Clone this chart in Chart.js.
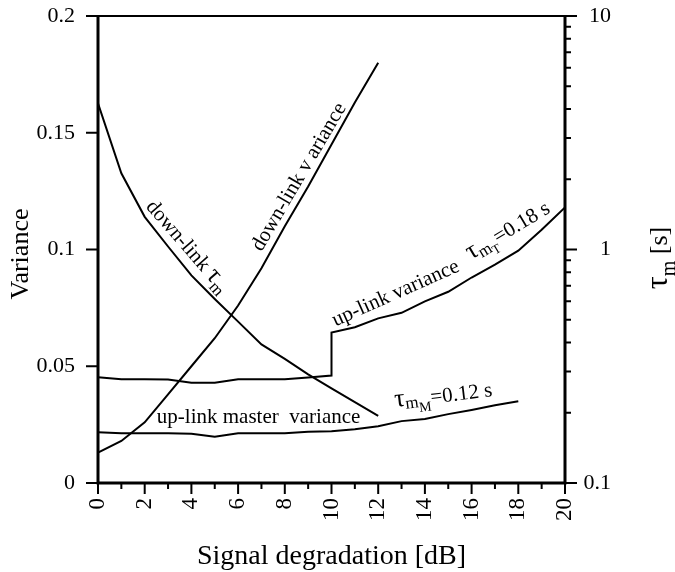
<!DOCTYPE html>
<html>
<head>
<meta charset="utf-8">
<script src="https://cdn.jsdelivr.net/npm/chart.js@4.4.1/dist/chart.umd.min.js"></script>
<style>
html,body{margin:0;padding:0;background:#fff;}
#wrap{width:675px;height:572px;position:relative;}
</style>
</head>
<body>
<div id="wrap"><canvas id="c"></canvas></div>
<script>
const FONT = '"Liberation Serif", "Times New Roman", Times, serif';

// ---- data (x = signal degradation in dB) ----
const dbDownlink = [0, 1, 2, 3, 4, 5, 6, 7, 8, 9, 10, 11, 12];
const downlinkTau = [4.23, 2.12, 1.38, 1.03, 0.775, 0.614, 0.491, 0.392, 0.340, 0.292, 0.254, 0.222, 0.194]; // seconds, right log axis
const downlinkVariance = [0.013, 0.018, 0.026, 0.038, 0.050, 0.062, 0.076, 0.092, 0.110, 0.127, 0.145, 0.163, 0.180];

const dbUplink = [0, 1, 2, 3, 4, 5, 6, 7, 8, 9, 10, 10, 11, 12, 13, 14, 15, 16, 17, 18, 19, 20];
const uplinkVariance = [0.0453, 0.0444, 0.0444, 0.0443, 0.0429, 0.0429, 0.0444, 0.0444, 0.0444, 0.0452, 0.0460,
                        0.0644, 0.0667, 0.0705, 0.0729, 0.0778, 0.0819, 0.0880, 0.0935, 0.0995, 0.1085, 0.1180];

const dbMaster = [0, 1, 2, 3, 4, 5, 6, 7, 8, 9, 10, 11, 12, 13, 14, 15, 16, 17, 18];
const uplinkMasterVariance = [0.0217, 0.0213, 0.0213, 0.0213, 0.0211, 0.0198, 0.0213, 0.0213, 0.0213, 0.0220, 0.0222,
                              0.0230, 0.0243, 0.0265, 0.0274, 0.0295, 0.0313, 0.0333, 0.0350];

// ---- ticks ----
const xTickValues = [0, 2, 4, 6, 8, 10, 12, 14, 16, 18, 20];
const xMinorTickValues = [1, 3, 5, 7, 9, 11, 13, 15, 17, 19];
const varianceTicks = [0, 0.05, 0.1, 0.15, 0.2];
const tauTicks = [0.1, 1, 10];
const tauTickLabels = ['0.1', '1', '10'];
const tauMinorTicks = [0.2, 0.3, 0.4, 0.5, 0.6, 0.7, 0.8, 0.9, 2, 3, 4, 5, 6, 7, 8, 9];

// ---- texts ----
const xAxisTitle = 'Signal degradation [dB]';
const leftAxisTitle = 'Variance';
const rightAxisTitle = [['τ', 32, 0], ['m', 20, 8], [' [s]', 26, 0]];

// annotation anchors in (dB, variance) units
const annotations = [
  { x: 3.64, y: 0.0996, angle: 49, align: 'center', parts: [['down-link ', 21, 0], ['τ', 26, 0], ['m', 17, 5]] },
  { x: 8.82, y: 0.1298, angle: -59.6, align: 'center', parts: [['down-link v ariance', 21, 0]] },
  { x: 12.85, y: 0.0790, angle: -24, align: 'center', parts: [['up-link variance', 21, 0]] },
  { x: 17.69, y: 0.1058, angle: -31, align: 'center', parts: [['τ', 26, 0], ['m', 17, 4], ['T', 13, 8], ['=0.18 s', 21, 0]] },
  { x: 14.82, y: 0.0351, angle: -7, align: 'center', parts: [['τ', 26, 0], ['m', 17, 3], ['M', 14, 8], ['=0.12 s', 21, 1]] },
  { x: 2.52, y: 0.0259, angle: 0, align: 'left', parts: [['up-link master  variance', 21, 0]] }
];

function drawRich(ctx, parts, px, py, angleDeg, align, baseline) {
  ctx.save();
  ctx.translate(px, py);
  ctx.rotate(angleDeg * Math.PI / 180);
  ctx.textBaseline = baseline || 'alphabetic';
  ctx.textAlign = 'left';
  ctx.fillStyle = '#000';
  let total = 0;
  const ws = parts.map(([t, s]) => { ctx.font = s + 'px ' + FONT; const w = ctx.measureText(t).width; total += w; return w; });
  let cx = align === 'center' ? -total / 2 : (align === 'right' ? -total : 0);
  parts.forEach(([t, s, dy], i) => { ctx.font = s + 'px ' + FONT; ctx.fillText(t, cx, dy); cx += ws[i]; });
  ctx.restore();
}

const decor = {
  id: 'decor',
  afterDraw(chart) {
    const { ctx, chartArea: a, scales } = chart;
    const x = scales.x, y = scales.y, y2 = scales.y2;
    ctx.save();
    ctx.strokeStyle = '#000';
    ctx.lineCap = 'butt';
    // frame
    ctx.lineWidth = 2;
    ctx.beginPath(); ctx.moveTo(a.left, a.top); ctx.lineTo(a.right, a.top); ctx.stroke();
    ctx.lineWidth = 3;
    ctx.beginPath();
    ctx.moveTo(a.left, a.top - 1); ctx.lineTo(a.left, a.bottom + 1.5);
    ctx.moveTo(a.left - 1.5, a.bottom); ctx.lineTo(a.right + 1.5, a.bottom);
    ctx.moveTo(a.right, a.top - 1); ctx.lineTo(a.right, a.bottom + 1.5);
    ctx.stroke();
    // ticks
    ctx.lineWidth = 2;
    ctx.beginPath();
    xTickValues.forEach(v => { const p = x.getPixelForValue(v); ctx.moveTo(p, a.bottom); ctx.lineTo(p, a.bottom + 11); });
    xMinorTickValues.forEach(v => { const p = x.getPixelForValue(v); ctx.moveTo(p, a.bottom); ctx.lineTo(p, a.bottom + 6); });
    varianceTicks.forEach(v => { const p = y.getPixelForValue(v); ctx.moveTo(a.left - 12, p); ctx.lineTo(a.left, p); });
    tauTicks.forEach(v => { const p = y2.getPixelForValue(v); ctx.moveTo(a.right, p); ctx.lineTo(a.right + 12, p); });
    tauMinorTicks.forEach(v => { const p = y2.getPixelForValue(v); ctx.moveTo(a.right, p); ctx.lineTo(a.right + 6, p); });
    ctx.stroke();
    ctx.restore();

    // right tick labels (right-aligned, as in the reference)
    tauTicks.forEach((v, i) => {
      drawRich(ctx, [[tauTickLabels[i], 22, 0]], a.right + 46, y2.getPixelForValue(v), 0, 'right', 'middle');
    });

    // axis titles
    drawRich(ctx, [[xAxisTitle, 28, 0]], (a.left + a.right) / 2, 564, 0, 'center');
    drawRich(ctx, [[leftAxisTitle, 26, 0]], 28, 254, -90, 'center');
    drawRich(ctx, rightAxisTitle, 667, 258, -90, 'center');

    // annotations
    annotations.forEach(an => {
      drawRich(ctx, an.parts, x.getPixelForValue(an.x), y.getPixelForValue(an.y), an.angle, an.align);
    });
  }
};

const line = (xs, ys, axis, label) => ({
  label, yAxisID: axis,
  data: xs.map((v, i) => ({ x: v, y: ys[i] })),
  borderColor: '#000', backgroundColor: '#000', borderWidth: 2,
  pointRadius: 0, tension: 0, fill: false
});

new Chart(document.getElementById('c'), {
  type: 'line',
  data: {
    datasets: [
      line(dbDownlink, downlinkTau, 'y2', 'down-link tau_m'),
      line(dbDownlink, downlinkVariance, 'y', 'down-link variance'),
      line(dbUplink, uplinkVariance, 'y', 'up-link variance'),
      line(dbMaster, uplinkMasterVariance, 'y', 'up-link master variance')
    ]
  },
  options: {
    responsive: true,
    maintainAspectRatio: false,
    animation: false,
    layout: { padding: { top: 16, left: 0, right: 0, bottom: 0 } },
    plugins: { legend: { display: false }, tooltip: { enabled: false } },
    scales: {
      x: {
        type: 'linear', position: 'bottom', min: 0, max: 20,
        afterBuildTicks: s => { s.ticks = xTickValues.map(v => ({ value: v })); },
        afterFit: s => { s.height = 89; s.paddingLeft = 0; s.paddingRight = 0; s.paddingTop = 0; s.paddingBottom = 0; },
        grid: { display: false, drawTicks: false },
        border: { display: false },
        ticks: { autoSkip: false, minRotation: 90, maxRotation: 90, padding: 15, color: '#000',
                 font: { family: FONT, size: 23 }, callback: v => String(v) }
      },
      y: {
        type: 'linear', position: 'left', min: 0, max: 0.2,
        afterBuildTicks: s => { s.ticks = varianceTicks.map(v => ({ value: v })); },
        afterFit: s => { s.width = 98; s.paddingTop = 0; s.paddingBottom = 0; s.paddingLeft = 0; s.paddingRight = 0; },
        grid: { display: false, drawTicks: false },
        border: { display: false },
        ticks: { autoSkip: false, padding: 23, color: '#000', font: { family: FONT, size: 22 }, callback: v => String(v) }
      },
      y2: {
        type: 'logarithmic', position: 'right', min: 0.1, max: 10,
        afterBuildTicks: s => { s.ticks = tauTicks.map(v => ({ value: v })); },
        afterFit: s => { s.width = 110; s.paddingTop = 0; s.paddingBottom = 0; s.paddingLeft = 0; s.paddingRight = 0; },
        grid: { display: false, drawTicks: false },
        border: { display: false },
        ticks: { display: false }
      }
    }
  },
  plugins: [decor]
});
</script>
</body>
</html>
